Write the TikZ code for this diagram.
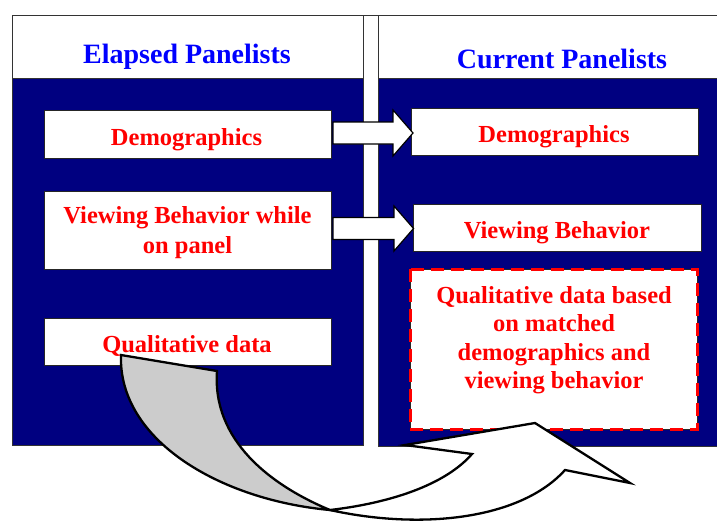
\documentclass[tikz,border=0pt]{standalone}
\usepackage{fontspec}
\setmainfont{Liberation Serif}
\usetikzlibrary{calc}
\definecolor{panelnavy}{HTML}{000080}
\definecolor{headblue}{HTML}{0000FF}
\definecolor{textred}{HTML}{FF0000}
\definecolor{ribbongray}{HTML}{CCCCCC}
\begin{document}
\begin{tikzpicture}[x=1pt,y=-1pt,
  panelbody/.style={draw=black!80, line width=0.8pt, fill=panelnavy},
  panelhead/.style={draw=black!80, line width=0.8pt, fill=white},
  card/.style={draw=black!85, line width=0.9pt, fill=white, inner sep=0pt, outer sep=0pt},
  cardtext/.style={text=textred, font=\fontsize{24.5}{28.5}\selectfont\bfseries,
                   align=center, inner sep=0pt, anchor=base},
  headtext/.style={text=headblue, font=\fontsize{28}{32}\selectfont\bfseries,
                   inner sep=0pt, anchor=base},
  blockarrow/.style={draw=black, line width=1.2pt, fill=white, line join=miter},
  ribbon/.style={draw=black, line width=2.3pt, line join=miter},
  dashframe/.style={draw=textred, line width=3pt, dash pattern=on 13pt off 7pt}
]
\useasboundingbox (0,0) rectangle (717,525);
\fill[white] (0,0) rectangle (717,525);

% two panels with white title strips
\draw[panelbody] (12,78) rectangle (363,445);
\draw[panelbody] (378,78) rectangle (722,446);
\draw[panelhead] (12,15) rectangle (363,78);
\draw[panelhead] (378,15) rectangle (722,78);
\draw[black!80, line width=0.8pt] (12,15) -- (717,15);

\node[headtext] (lhead) at (187,63) {Elapsed Panelists};
\node[headtext] (rhead) at (562,68) {Current Panelists};

% boxes of the elapsed panel
\node[card, minimum width=287pt, minimum height=48pt] (ldemo) at (187.5,134) {};
\node[card, minimum width=287pt, minimum height=78pt] (lview) at (187.5,230) {};
\node[card, minimum width=287pt, minimum height=47pt] (lqual) at (187.5,341.5) {};

% boxes of the current panel
\node[card, minimum width=287pt, minimum height=47pt] (rdemo) at (554.5,131.5) {};
\node[card, minimum width=288pt, minimum height=47pt] (rview) at (557,227.5) {};
\node[card, minimum width=287pt, minimum height=160pt] (rqual) at (553.5,349) {};
\draw[dashframe] (rqual.north west) rectangle (rqual.south east);

% box texts (multi-line texts sit on the baseline of their last line)
\node[cardtext] (ldemo-t) at (186.5,145) {Demographics};
\node[cardtext, font=\fontsize{24.5}{30}\selectfont\bfseries] (lview-t) at (187.5,253)
  {Viewing Behavior while\\on panel};
\node[cardtext] (lqual-t) at (187,352) {Qualitative data};
\node[cardtext] (rdemo-t) at (554,142) {Demographics};
\node[cardtext] (rview-t) at (557,238) {Viewing Behavior};
\node[cardtext] (rqual-t) at (554,388.5)
  {Qualitative data based\\on matched\\demographics and\\viewing behavior};

% straight block arrows between the panels
\draw[blockarrow] ($(ldemo.east)+(2,-12)$) -- ++(60,0) -- ++(0,-12) -- ($(rdemo.west)+(2,1.5)$)
  -- ($(ldemo.east)+(62,22)$) -- ++(0,-12) -- ++(-60,0) -- cycle;
\draw[blockarrow] ($(lview.east)+(2,-12.5)$) -- ++(61,0) -- ++(0,-11.5) -- ($(rview.west)+(0.5,1)$)
  -- ($(lview.east)+(63,21)$) -- ++(0,-11.5) -- ++(-61,0) -- cycle;

% twisted ribbon arrow carrying the qualitative data across
\coordinate (twist) at (330,510);
\filldraw[ribbon, fill=ribbongray] (121,355) -- (217,371)
  .. controls (212,440) and (270,485) .. (twist)
  .. controls (220,500) and (118,440) .. (121,355) -- cycle;
\filldraw[ribbon, fill=white] (twist)
  .. controls (390,503) and (445,485) .. (472,454)
  -- (405,445) -- (535,423) -- (630,483) -- (565,470)
  .. controls (520,520) and (420,530) .. (twist) -- cycle;
\end{tikzpicture}
\end{document}
